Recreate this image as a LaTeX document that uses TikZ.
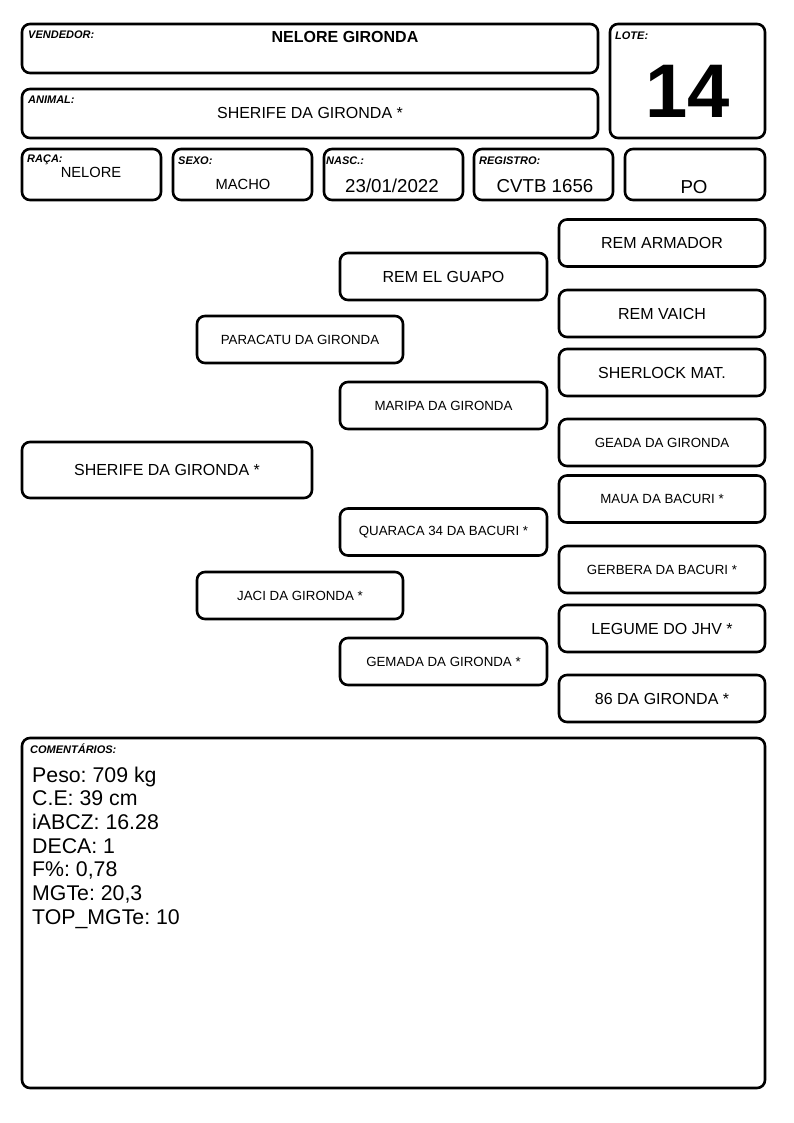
\documentclass[tikz,border=0pt]{standalone}
\usepackage{fontspec}
\setmainfont{Liberation Sans}
\frenchspacing
\begin{document}
\begin{tikzpicture}[x=1pt,y=-1pt,
  box/.style={draw, line width=2.6pt, rounded corners=8pt, inner sep=0pt},
  lbl/.style={font=\fontsize{11}{12}\selectfont\bfseries\itshape, inner sep=0pt, anchor=base west},
  big/.style={font=\fontsize{16}{19}\selectfont},
  small/.style={font=\fontsize{13.3}{16}\selectfont},
  mid/.style={font=\fontsize{14.7}{17}\selectfont, inner sep=0pt},
  val/.style={font=\fontsize{18.7}{22}\selectfont, inner sep=0pt},
  rcol/.style={box, minimum width=206pt, minimum height=47pt},
  mcol/.style={box, minimum width=207pt, minimum height=47pt},
  lcol/.style={box, minimum width=206pt, minimum height=47pt},
  cmt/.style={font=\fontsize{21.3}{24}\selectfont, inner sep=0pt, anchor=base west}]
\useasboundingbox (0,0) rectangle (794,1123);

% header boxes
\node[box, minimum width=576pt, minimum height=49pt] (vend) at (310,48.5) {};
\node[box, minimum width=155pt, minimum height=114pt] (lote) at (687.5,81) {};
\node[box, minimum width=576pt, minimum height=49pt] (animal) at (310,113.5) {};
\node[box, minimum width=139pt, minimum height=51pt] (raca) at (91.5,174.5) {};
\node[box, minimum width=139pt, minimum height=51pt] (sexo) at (242.5,174.5) {};
\node[box, minimum width=139pt, minimum height=51pt] (nasc) at (393.5,174.5) {};
\node[box, minimum width=139pt, minimum height=51pt] (reg) at (543.5,174.5) {};
\node[box, minimum width=140pt, minimum height=51pt] (po) at (695,174.5) {};

% labels
\node[lbl] (lvend) at (28,38.7) {VENDEDOR:};
\node[lbl] (llote) at (615,40) {LOTE:};
\node[lbl] (lanimal) at (28,104) {ANIMAL:};
\node[lbl] (lraca) at (27,163) {RAÇA:};
\node[lbl] (lsexo) at (178,165) {SEXO:};
\node[lbl] (lnasc) at (326,165) {NASC.:};
\node[lbl] (lreg) at (479,165) {REGISTRO:};
\node[lbl] (lcom) at (30,753) {COMENTÁRIOS:};

% header values
\node[font=\fontsize{16}{19}\selectfont\bfseries, inner sep=0pt] (tvend) at (345,37) {NELORE GIRONDA};
\node[font=\fontsize{76}{80}\selectfont\bfseries, inner sep=0pt] (tlote) at (688,91) {14};
\node[big, inner sep=0pt] (tanimal) at (310,113) {SHERIFE DA GIRONDA *};
\node[mid] (traca) at (91,172) {NELORE};
\node[mid] (tsexo) at (243,184) {MACHO};
\node[val] (tnasc) at (392,186) {23/01/2022};
\node[val] (treg) at (545,186) {CVTB 1656};
\node[val] (tpo) at (694,187) {PO};

% pedigree
\node[box, big, minimum width=290pt, minimum height=56pt] (animalp) at (167,470) {SHERIFE DA GIRONDA *};

\node[lcol, small] (pai) at (300,339.5) {PARACATU DA GIRONDA};
\node[lcol, small] (mae) at (300,595.5) {JACI DA GIRONDA *};

\node[mcol, big] (avo1) at (443.5,276.5) {REM EL GUAPO};
\node[mcol, small] (avo2) at (443.5,405.5) {MARIPA DA GIRONDA};
\node[mcol, small] (avo3) at (443.5,532) {QUARACA 34 DA BACURI *};
\node[mcol, small] (avo4) at (443.5,661.5) {GEMADA DA GIRONDA *};

\node[rcol, big] (bis1) at (662,243) {REM ARMADOR};
\node[rcol, big] (bis2) at (662,313.5) {REM VAICH};
\node[rcol, big] (bis3) at (662,372.5) {SHERLOCK MAT.};
\node[rcol, small] (bis4) at (662,442.5) {GEADA DA GIRONDA};
\node[rcol, small] (bis5) at (662,499) {MAUA DA BACURI *};
\node[rcol, small] (bis6) at (662,569.5) {GERBERA DA BACURI *};
\node[rcol, big] (bis7) at (662,628.5) {LEGUME DO JHV *};
\node[rcol, big] (bis8) at (662,698.5) {86 DA GIRONDA *};

% comments
\node[box, minimum width=743pt, minimum height=350pt] (com) at (393.5,913) {};
\node[cmt] (c1) at (32,782) {Peso: 709 kg};
\node[cmt] (c2) at (32,805.7) {C.E: 39 cm};
\node[cmt] (c3) at (32,829.4) {iABCZ: 16.28};
\node[cmt] (c4) at (32,853.1) {DECA: 1};
\node[cmt] (c5) at (32,876.8) {F\%: 0,78};
\node[cmt] (c6) at (32,900.5) {MGTe: 20,3};
\node[cmt] (c7) at (32,924.2) {TOP\_MGTe: 10};
\end{tikzpicture}
\end{document}
